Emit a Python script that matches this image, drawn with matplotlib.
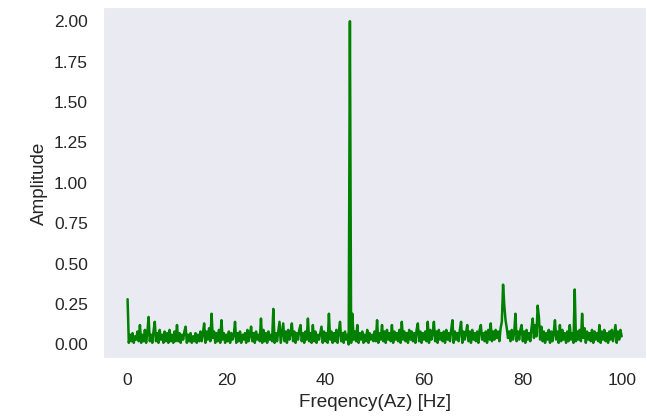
import numpy as np
import matplotlib
matplotlib.use("Agg")
import matplotlib.pyplot as plt
import seaborn as sns

# frequency axis: 0 .. 100 Hz in 0.25 Hz steps
freq_start = 0.0
freq_stop = 100.0
freq_step = 0.25

# amplitude spectrum, one row per 5 Hz
amp_rows = [
    [0.28, 0.01, 0.06, 0.02, 0.07, 0.01, 0.05, 0.03, 0.08, 0.02, 0.12, 0.01, 0.06, 0.02, 0.09, 0.01, 0.07, 0.17, 0.02, 0.06],
    [0.01, 0.08, 0.14, 0.02, 0.07, 0.01, 0.09, 0.03, 0.06, 0.01, 0.08, 0.02, 0.07, 0.01, 0.09, 0.02, 0.06, 0.01, 0.08, 0.02],
    [0.12, 0.02, 0.07, 0.01, 0.06, 0.03, 0.08, 0.11, 0.01, 0.06, 0.02, 0.07, 0.01, 0.05, 0.02, 0.07, 0.01, 0.06, 0.02, 0.08],
    [0.02, 0.07, 0.13, 0.01, 0.08, 0.03, 0.10, 0.02, 0.19, 0.04, 0.08, 0.01, 0.07, 0.02, 0.09, 0.01, 0.15, 0.03, 0.07, 0.01],
    [0.06, 0.02, 0.08, 0.01, 0.07, 0.03, 0.06, 0.14, 0.01, 0.07, 0.02, 0.08, 0.01, 0.06, 0.03, 0.07, 0.01, 0.09, 0.02, 0.06],
    [0.11, 0.02, 0.07, 0.01, 0.08, 0.03, 0.06, 0.02, 0.16, 0.01, 0.09, 0.02, 0.07, 0.01, 0.08, 0.03, 0.06, 0.02, 0.22, 0.01],
    [0.07, 0.02, 0.08, 0.14, 0.01, 0.07, 0.13, 0.02, 0.08, 0.01, 0.09, 0.03, 0.07, 0.13, 0.02, 0.08, 0.01, 0.07, 0.03, 0.09],
    [0.12, 0.02, 0.07, 0.01, 0.08, 0.03, 0.16, 0.02, 0.07, 0.01, 0.12, 0.02, 0.08, 0.01, 0.06, 0.03, 0.07, 0.11, 0.01, 0.08],
    [0.02, 0.07, 0.01, 0.19, 0.03, 0.08, 0.01, 0.07, 0.02, 0.09, 0.01, 0.08, 0.14, 0.02, 0.07, 0.01, 0.08, 0.03, 0.06, 0.00],
    [2.00, 0.01, 0.19, 0.03, 0.08, 0.02, 0.12, 0.01, 0.07, 0.03, 0.08, 0.01, 0.06, 0.02, 0.09, 0.01, 0.07, 0.03, 0.06, 0.02],
    [0.08, 0.02, 0.15, 0.01, 0.07, 0.03, 0.12, 0.02, 0.08, 0.01, 0.09, 0.03, 0.07, 0.02, 0.12, 0.01, 0.08, 0.03, 0.07, 0.02],
    [0.09, 0.01, 0.14, 0.03, 0.08, 0.02, 0.07, 0.01, 0.09, 0.03, 0.08, 0.02, 0.07, 0.01, 0.09, 0.13, 0.02, 0.08, 0.01, 0.07],
    [0.03, 0.08, 0.02, 0.14, 0.01, 0.09, 0.03, 0.07, 0.14, 0.02, 0.08, 0.01, 0.09, 0.03, 0.07, 0.02, 0.08, 0.01, 0.09, 0.03],
    [0.07, 0.02, 0.09, 0.15, 0.01, 0.08, 0.03, 0.07, 0.02, 0.09, 0.14, 0.01, 0.08, 0.03, 0.07, 0.12, 0.02, 0.08, 0.01, 0.09],
    [0.03, 0.07, 0.02, 0.08, 0.01, 0.09, 0.12, 0.03, 0.07, 0.02, 0.08, 0.01, 0.09, 0.03, 0.13, 0.02, 0.08, 0.03, 0.09, 0.04],
    [0.08, 0.02, 0.10, 0.14, 0.37, 0.24, 0.15, 0.10, 0.04, 0.08, 0.02, 0.09, 0.03, 0.07, 0.19, 0.02, 0.08, 0.03, 0.09, 0.12],
    [0.02, 0.08, 0.01, 0.09, 0.03, 0.07, 0.02, 0.10, 0.16, 0.04, 0.12, 0.05, 0.24, 0.17, 0.03, 0.11, 0.02, 0.08, 0.01, 0.07],
    [0.03, 0.09, 0.01, 0.08, 0.02, 0.07, 0.15, 0.03, 0.08, 0.01, 0.12, 0.02, 0.09, 0.03, 0.07, 0.01, 0.08, 0.02, 0.12, 0.03],
    [0.07, 0.01, 0.34, 0.02, 0.08, 0.03, 0.09, 0.02, 0.19, 0.04, 0.10, 0.01, 0.08, 0.03, 0.07, 0.02, 0.09, 0.01, 0.08, 0.03],
    [0.07, 0.02, 0.12, 0.01, 0.08, 0.03, 0.09, 0.02, 0.07, 0.01, 0.08, 0.03, 0.09, 0.02, 0.07, 0.12, 0.01, 0.08, 0.03, 0.09],
    [0.05],
]

amp = np.concatenate([np.array(r) for r in amp_rows])
freq = np.arange(len(amp)) * freq_step + freq_start

sns.set_style("dark")
plt.rcParams["font.family"] = ["Liberation Sans", "DejaVu Sans"]

fig, ax = plt.subplots(figsize=(6.47, 4.16), dpi=100)
fig.subplots_adjust(left=0.159, right=0.999, top=0.982, bottom=0.139)

ax.plot(freq, amp, color="green", linewidth=1.8)
ax.set_ylim(-0.085, 2.085)
ax.set_yticks(np.arange(0, 2.01, 0.25))
ax.yaxis.set_major_formatter(matplotlib.ticker.FormatStrFormatter("%.2f"))
ax.tick_params(labelsize=12.5, colors=".15", length=0, pad=10.8)
ax.set_xlabel("Freqency(Az) [Hz]", fontsize=13.6, color=".15", labelpad=4.5)
ax.set_ylabel("Amplitude", fontsize=13.6, color=".15", labelpad=4.5)

fig.savefig("out.png", dpi=100)
